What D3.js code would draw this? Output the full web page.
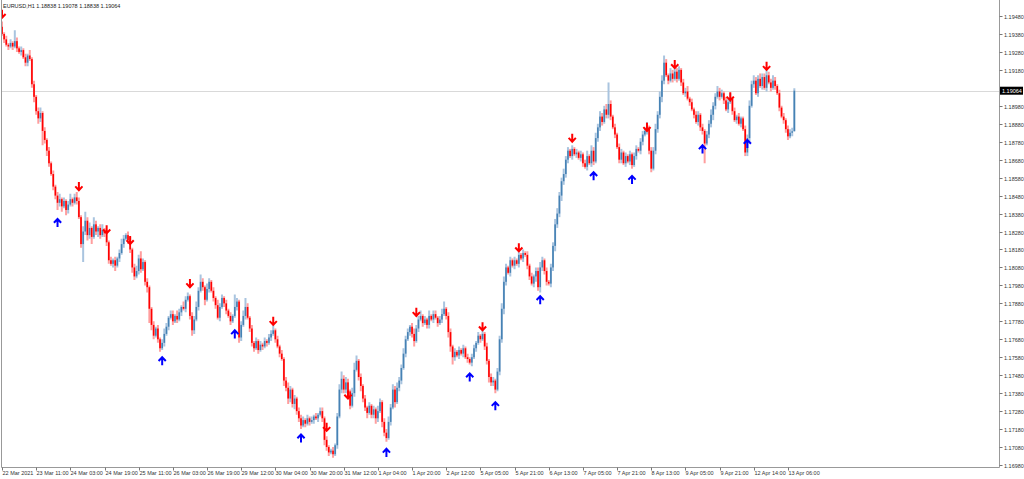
<!DOCTYPE html>
<html><head><meta charset="utf-8">
<script src="https://cdn.jsdelivr.net/npm/d3@7"></script>
<style>body{margin:0;background:#fff}svg{display:block}text{font-family:"Liberation Sans",Arial,sans-serif}</style>
</head><body><svg id="c" width="1024" height="479"></svg>
<script>
// ---------------- DATA ----------------
const symbolTitle = "EURUSD,H1  1.18838 1.19078 1.18838 1.19064";
const firstOpen = 1.1942;
const closes = [
1.1938,1.1935,1.1932,1.1931,1.1933,1.1931,1.1934,1.1930,1.1928,1.1929,
1.1925,1.1922,1.1926,1.1924,1.1910,1.1903,1.1895,1.1891,1.1894,1.1884,
1.1879,1.1873,1.1866,1.1860,1.1853,1.1848,1.1844,1.1846,1.1842,1.1845,
1.1840,1.1843,1.1846,1.1844,1.1847,1.1845,1.1836,1.1821,1.1828,1.1834,
1.1826,1.1830,1.1825,1.1832,1.1828,1.1830,1.1826,1.1829,1.1827,1.1822,
1.1812,1.1810,1.1812,1.1809,1.1813,1.1816,1.1821,1.1824,1.1826,1.1823,
1.1818,1.1808,1.1803,1.1806,1.1813,1.1807,1.1811,1.1800,1.1797,1.1785,
1.1776,1.1770,1.1774,1.1768,1.1763,1.1766,1.1771,1.1775,1.1780,1.1782,
1.1778,1.1781,1.1779,1.1783,1.1786,1.1785,1.1790,1.1792,1.1781,1.1773,
1.1779,1.1786,1.1795,1.1800,1.1797,1.1790,1.1796,1.1800,1.1795,1.1791,
1.1787,1.1780,1.1786,1.1791,1.1788,1.1784,1.1781,1.1778,1.1781,1.1786,
1.1789,1.1769,1.1776,1.1781,1.1786,1.1780,1.1774,1.1766,1.1763,1.1767,
1.1762,1.1765,1.1764,1.1767,1.1766,1.1769,1.1771,1.1773,1.1768,1.1764,
1.1760,1.1757,1.1745,1.1741,1.1735,1.1740,1.1732,1.1735,1.1728,1.1724,
1.1720,1.1723,1.1721,1.1724,1.1722,1.1723,1.1725,1.1724,1.1726,1.1728,
1.1724,1.1712,1.1708,1.1705,1.1706,1.1704,1.1709,1.1725,1.1740,1.1746,
1.1740,1.1744,1.1739,1.1731,1.1738,1.1751,1.1756,1.1747,1.1742,1.1735,
1.1730,1.1727,1.1731,1.1726,1.1729,1.1724,1.1728,1.1733,1.1722,1.1716,
1.1713,1.1722,1.1730,1.1740,1.1733,1.1741,1.1745,1.1752,1.1760,1.1768,
1.1772,1.1775,1.1771,1.1767,1.1774,1.1779,1.1781,1.1777,1.1779,1.1776,
1.1781,1.1779,1.1782,1.1780,1.1777,1.1779,1.1782,1.1785,1.1781,1.1772,
1.1764,1.1758,1.1761,1.1759,1.1762,1.1760,1.1763,1.1758,1.1757,1.1755,
1.1758,1.1763,1.1766,1.1770,1.1768,1.1771,1.1764,1.1756,1.1747,1.1744,
1.1745,1.1740,1.1750,1.1768,1.1785,1.1800,1.1808,1.1805,1.1812,1.1809,
1.1812,1.1810,1.1815,1.1813,1.1816,1.1815,1.1809,1.1803,1.1799,1.1803,
1.1806,1.1797,1.1808,1.1812,1.1806,1.1800,1.1799,1.1808,1.1820,1.1832,
1.1838,1.1848,1.1856,1.1860,1.1868,1.1873,1.1870,1.1874,1.1871,1.1872,
1.1869,1.1871,1.1866,1.1864,1.1870,1.1866,1.1873,1.1867,1.1880,1.1886,
1.1892,1.1889,1.1896,1.1893,1.1899,1.1892,1.1886,1.1882,1.1875,1.1868,
1.1872,1.1866,1.1870,1.1867,1.1871,1.1865,1.1870,1.1874,1.1873,1.1878,
1.1882,1.1884,1.1886,1.1873,1.1863,1.1873,1.1885,1.1893,1.1903,1.1912,
1.1922,1.1915,1.1912,1.1916,1.1913,1.1917,1.1913,1.1918,1.1911,1.1905,
1.1906,1.1902,1.1900,1.1896,1.1893,1.1889,1.1893,1.1886,1.1884,1.1877,
1.1882,1.1888,1.1893,1.1898,1.1903,1.1906,1.1903,1.1905,1.1901,1.1896,
1.1900,1.1902,1.1895,1.1890,1.1892,1.1888,1.1891,1.1885,1.1872,1.1880,
1.1898,1.1910,1.1912,1.1905,1.1913,1.1909,1.1914,1.1908,1.1915,1.1911,
1.1908,1.1912,1.1909,1.1905,1.1897,1.1892,1.1890,1.1885,1.1881,1.1883,
1.18838,1.19064
];
// wick lengths in pips (0.0001) above the body / below the body
const upWicks = [
3,1,2,1,2,1,6,2,1,2, 1,2,1,3,1,2,1,2,3,1, 2,1,2,1,2,1,2,3,1,2, 1,2,3,1,2,3,2,1,3,5,
2,3,1,4,2,1,2,3,1,2, 1,2,1,2,1,2,3,2,1,2, 2,1,2,3,2,4,2,1,2,1, 1,2,1,2,1,2,3,2,1,2,
2,1,3,2,1,3,2,2,1,2, 2,3,2,4,2,1,3,2,1,2, 1,3,2,2,1,2,1,2,1,7, 2,1,2,3,5,2,1,2,1,2,
1,2,1,2,1,2,2,3,1,2, 1,2,1,2,3,2,1,2,1,2, 2,2,1,2,1,2,1,2,1,2, 2,1,2,1,1,2,1,2,3,4,
2,3,2,1,3,4,3,1,2,1, 2,1,2,1,2,1,3,2,1,2, 2,3,2,3,2,3,2,2,3,2, 2,1,2,3,2,2,3,1,2,1,
3,1,2,2,1,2,3,4,1,2, 2,1,2,1,2,1,2,1,2,1, 2,2,1,2,1,2,1,2,1,2, 2,1,2,2,3,3,2,1,2,1,
2,1,3,1,2,1,2,1,2,1, 2,2,3,2,1,2,1,2,2,3, 3,2,2,3,2,2,1,2,1,2, 1,2,1,2,3,1,3,2,3,2,
3,2,2,3,12,2,1,2,1,2, 2,1,2,1,2,1,2,2,1,2, 2,2,3,1,2,2,3,2,3,3, 4,2,1,3,2,3,2,2,1,2,
2,3,1,2,1,2,2,1,2,1, 2,2,3,2,2,3,2,2,1,2, 2,3,1,2,1,2,1,1,2,2, 3,2,3,2,2,3,2,2,3,2,
2,3,2,1,2,1,2,1,2,2, 2,1.4
];
const downWicks = [
1,2,1,2,1,2,1,2,1,2, 1,2,2,1,2,3,2,3,2,8, 2,3,2,1,2,2,4,2,3,1, 3,2,1,2,1,2,1,2,10,2,
3,2,4,1,2,3,2,1,2,2, 2,1,2,3,1,2,1,2,1,2, 2,3,2,1,2,2,1,2,3,8, 3,2,1,2,2,1,2,1,2,1,
2,1,2,1,2,1,2,1,2,3, 2,1,2,1,2,3,1,2,1,2, 2,1,2,1,2,2,1,2,1,1, 2,3,2,1,2,1,2,2,2,1,
2,1,2,1,2,1,2,1,2,1, 2,1,3,2,3,2,2,3,2,2, 2,1,2,1,2,1,2,1,2,1, 2,3,2,2,1,2,1,2,1,2,
2,2,3,2,1,2,1,2,3,2, 2,3,1,2,2,3,2,1,3,2, 2,1,2,1,3,1,2,2,1,2, 1,2,2,3,1,2,1,2,1,2,
2,1,2,1,2,1,2,1,2,3, 3,4,2,1,2,1,2,1,2,1, 2,1,2,1,2,1,2,2,3,2, 2,2,1,2,2,3,2,1,2,1,
2,1,2,1,2,1,2,2,1,2, 3,2,3,2,2,2,1,2,2,3, 2,2,3,2,2,2,1,2,1,2, 1,2,2,1,2,1,2,2,1,2,
2,2,1,2,2,2,1,2,1,2, 2,1,2,1,2,2,1,2,1,2, 2,1,2,2,2,1,2,2,2,3, 2,1,2,1,2,1,2,1,2,1,
2,1,2,1,2,1,2,2,2,11, 1,2,2,3,2,1,2,1,2,1, 2,1,2,1,2,1,2,1,2,2, 2,1,2,1,2,1,2,1,2,1,
2,1,2,1,2,1,2,2,2,1, 2,0
];
// 1.19080 sits under the current-price label in the reference, so it is not listed
const priceTicks = [1.16980,1.17080,1.17180,1.17280,1.17380,1.17480,1.17580,1.17680,1.17780,
  1.17880,1.17980,1.18080,1.18180,1.18280,1.18380,1.18480,1.18580,1.18680,1.18780,1.18880,
  1.18980,1.19180,1.19280,1.19380,1.19480];
const timeLabels = ["22 Mar 2021","23 Mar 11:00","24 Mar 03:00","24 Mar 19:00","25 Mar 11:00",
  "26 Mar 03:00","26 Mar 19:00","29 Mar 12:00","30 Mar 04:00","30 Mar 20:00","31 Mar 12:00",
  "1 Apr 04:00","1 Apr 20:00","2 Apr 12:00","5 Apr 05:00","5 Apr 21:00","6 Apr 13:00",
  "7 Apr 05:00","7 Apr 21:00","8 Apr 13:00","9 Apr 05:00","9 Apr 21:00","12 Apr 14:00","13 Apr 06:00"];
const timeLabelBars = [0,16,32,48,64,80,96,112,128,144,160,176,192,208,224,240,256,272,288,304,320,336,352,368];
const downArrowBars   = [0,36,49,60,88,127,152,162,194,225,242,267,302,315,341,358];
const downArrowPrices = [1.1949,1.1853,1.1829,1.1823,1.1799,1.1778,1.1719,1.1737,1.1783,1.1775,1.1819,1.1880,1.1886,1.1921,1.1903,1.1920];
const upArrowBars     = [26,75,109,140,180,219,231,252,277,295,328,349];
const upArrowPrices   = [1.1833,1.1756,1.1771,1.1713,1.1705,1.1747,1.1731,1.1790,1.1859,1.1857,1.1874,1.1877];
const currentPrice = 1.19064;

// ---------------- CHART ----------------
const svg = d3.select("#c");
const W = 1024, H = 479;
const plotRight = 999.5, plotBottom = 467.5;
svg.append("rect").attr("width", W).attr("height", H).attr("fill", "#fff");

const x = d3.scaleLinear().domain([0, 371]).range([2, 2 + 371 * 2.1357]);
const y = d3.scaleLinear().domain([1.16980, 1.19480]).range([465, 16]);

const candles = closes.map((c, i) => {
  const o = i === 0 ? firstOpen : closes[i - 1];
  return { i, o, c,
    h: Math.max(o, c) + upWicks[i] * 0.0001,
    l: Math.min(o, c) - downWicks[i] * 0.0001 };
});

svg.append("clipPath").attr("id", "plot").append("rect")
  .attr("x", 1.5).attr("y", 0).attr("width", plotRight - 1.5).attr("height", plotBottom);

// current price line
svg.append("line").attr("x1", 1.5).attr("x2", plotRight)
  .attr("y1", Math.round(y(currentPrice)) + 0.5).attr("y2", Math.round(y(currentPrice)) + 0.5)
  .attr("stroke", "#d9d9d9").attr("stroke-width", 1);

const g = svg.append("g").attr("clip-path", "url(#plot)");
const up = d => d.c >= d.o;

g.selectAll("line.wick").data(candles).join("line").attr("class", "wick")
  .attr("x1", d => x(d.i)).attr("x2", d => x(d.i))
  .attr("y1", d => y(d.h)).attr("y2", d => y(d.l))
  .attr("stroke", d => up(d) ? "#a9c4df" : "#ff9e9e").attr("stroke-width", 2);

g.selectAll("rect.body").data(candles).join("rect").attr("class", "body")
  .attr("x", d => x(d.i) - 0.8).attr("width", 1.6)
  .attr("y", d => y(Math.max(d.o, d.c)))
  .attr("height", d => Math.max(1, Math.abs(y(d.o) - y(d.c))))
  .attr("fill", d => up(d) ? "#4682b4" : "#ff0000");

// arrows
const downPath = "M0,-4.5L0,3.5M-3.6,-0.2L0,3.6L3.6,-0.2";
const upPath = "M0,4.5L0,-3.5M-3.6,0.2L0,-3.6L3.6,0.2";
g.selectAll("path.darr").data(downArrowBars).join("path").attr("class", "darr")
  .attr("d", downPath).attr("transform", (b, k) => `translate(${x(b)},${y(downArrowPrices[k])})`)
  .attr("fill", "none").attr("stroke", "#ff0000").attr("stroke-width", 2);
g.selectAll("path.uarr").data(upArrowBars).join("path").attr("class", "uarr")
  .attr("d", upPath).attr("transform", (b, k) => `translate(${x(b)},${y(upArrowPrices[k])})`)
  .attr("fill", "none").attr("stroke", "#0000ff").attr("stroke-width", 2);

// frame
svg.append("line").attr("x1", 1.5).attr("x2", 1.5).attr("y1", 0).attr("y2", plotBottom).attr("stroke", "#999");
svg.append("line").attr("x1", plotRight).attr("x2", plotRight).attr("y1", 0).attr("y2", plotBottom).attr("stroke", "#999");
svg.append("line").attr("x1", 1.5).attr("x2", plotRight).attr("y1", plotBottom).attr("y2", plotBottom).attr("stroke", "#999");

// right price axis
const fmt = d3.format(".5f");
const ya = svg.append("g");
priceTicks.forEach(p => {
  const yy = Math.round(y(p)) + 0.5;
  ya.append("line").attr("x1", plotRight).attr("x2", plotRight + 3).attr("y1", yy).attr("y2", yy).attr("stroke", "#777");
  ya.append("text").attr("x", 1004).attr("y", yy + 2).attr("font-size", 5.5).attr("fill", "#333").text(fmt(p));
});
// current price label
const cy = y(currentPrice);
svg.append("rect").attr("x", plotRight + 0.5).attr("y", cy - 4).attr("width", 23).attr("height", 8).attr("fill", "#000");
svg.append("text").attr("x", 1002).attr("y", cy + 2).attr("font-size", 5.5).attr("fill", "#fff").text(fmt(currentPrice));

// time axis
const xa = svg.append("g");
timeLabels.forEach((t, k) => {
  const xx = Math.round(x(timeLabelBars[k])) + 0.5;
  xa.append("line").attr("x1", xx).attr("x2", xx).attr("y1", plotBottom).attr("y2", plotBottom + 3).attr("stroke", "#777");
  xa.append("text").attr("x", xx).attr("y", 474.5).attr("font-size", 5.5).attr("fill", "#333").text(t);
});

// title
svg.append("text").attr("x", 3).attr("y", 7.5).attr("font-size", 5.5).attr("fill", "#222").text(symbolTitle);
</script></body></html>
